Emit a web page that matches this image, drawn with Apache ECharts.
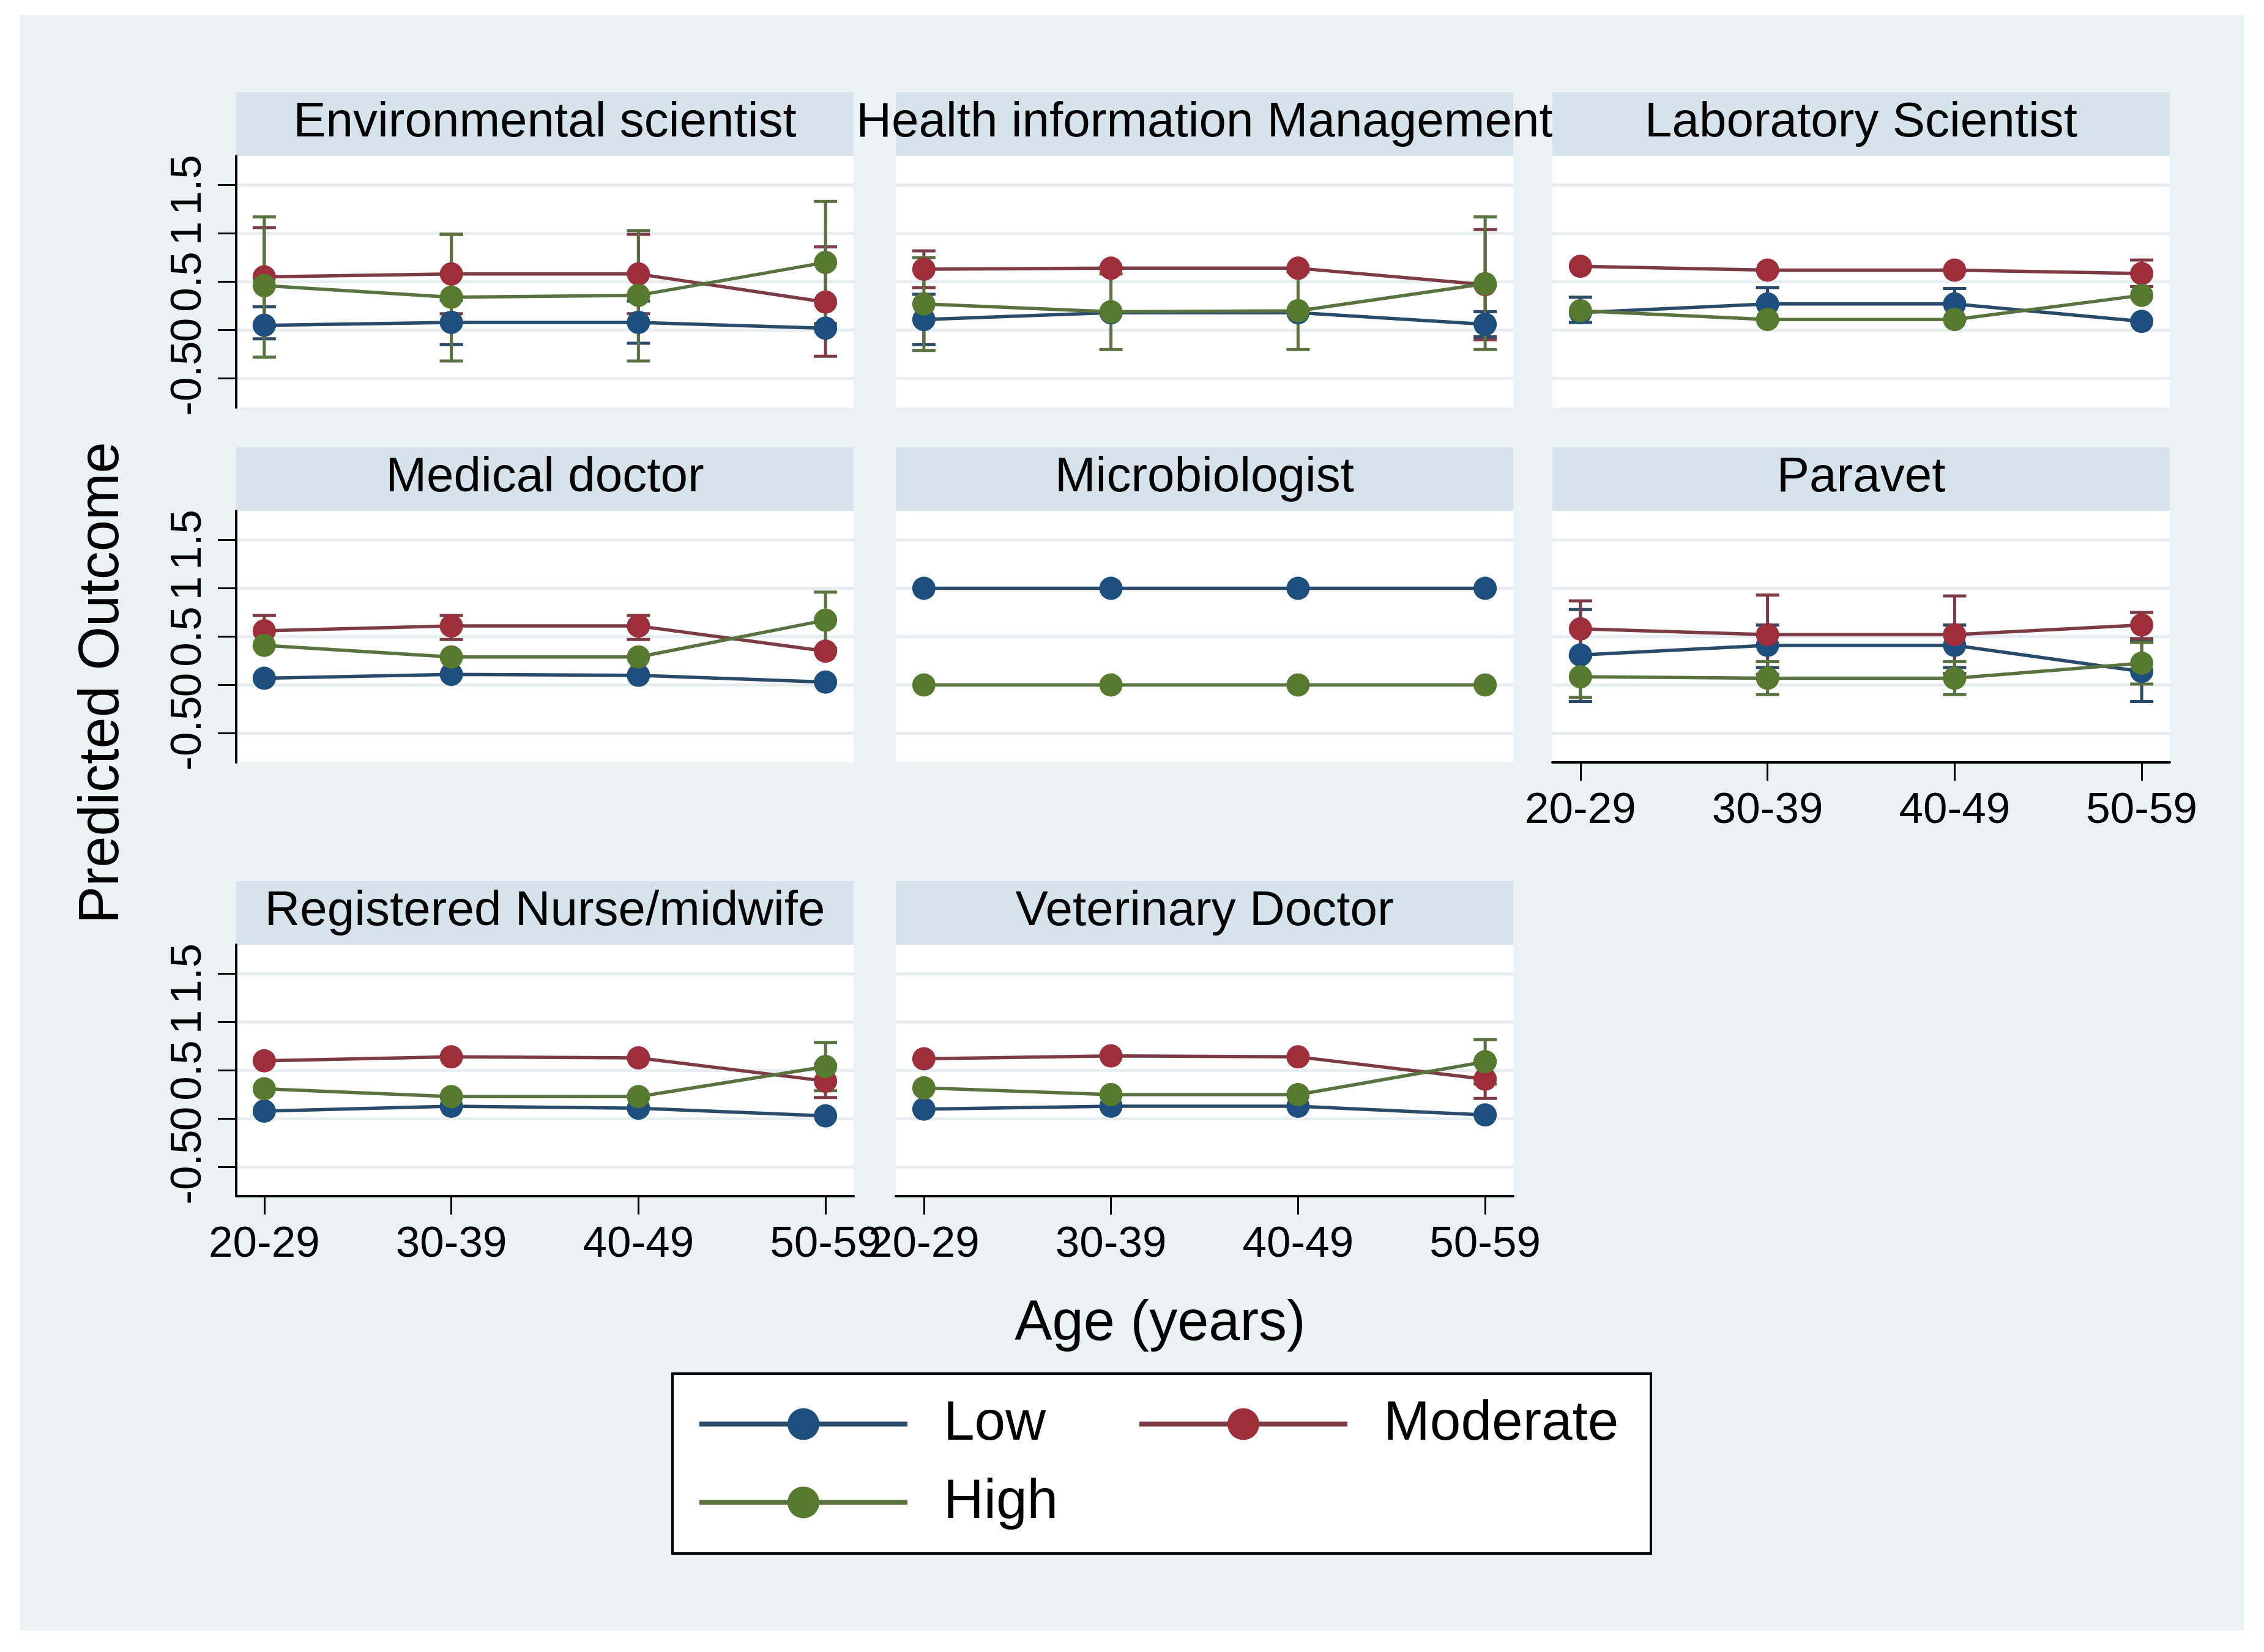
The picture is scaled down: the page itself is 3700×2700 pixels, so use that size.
<!DOCTYPE html>
<html>
<head>
<meta charset="utf-8">
<script src="https://cdn.jsdelivr.net/npm/echarts@6/dist/echarts.min.js"></script>
<style>
html,body{margin:0;padding:0;background:#ffffff;}
#c{position:absolute;left:32px;top:25px;width:3635px;height:2640px;}
</style>
</head>
<body>
<div id="c"></div>
<script>
// ---------------- data ----------------
const ages = ['20-29', '30-39', '40-49', '50-59'];
const groups = ['Low', 'Moderate', 'High'];
const panels = ['Environmental scientist', 'Health information Management', 'Laboratory Scientist',
  'Medical doctor', 'Microbiologist', 'Paravet', 'Registered Nurse/midwife', 'Veterinary Doctor'];
const yTicks = [-0.5, 0, 0.5, 1, 1.5];
const xTicks = [0, 1, 2, 3];

// predicted outcome, one row per panel (order as in `panels`)
const lowVals = [
  [0.05, 0.08, 0.08, 0.02],
  [0.11, 0.18, 0.18, 0.06],
  [0.18, 0.27, 0.27, 0.09],
  [0.07, 0.11, 0.10, 0.03],
  [1.00, 1.00, 1.00, 1.00],
  [0.31, 0.41, 0.41, 0.14],
  [0.08, 0.13, 0.11, 0.03],
  [0.10, 0.13, 0.13, 0.04]
];
const moderateVals = [
  [0.55, 0.58, 0.58, 0.29],
  [0.63, 0.64, 0.64, 0.47],
  [0.66, 0.62, 0.62, 0.585],
  [0.56, 0.61, 0.61, 0.35],
  null,
  [0.58, 0.52, 0.52, 0.62],
  [0.60, 0.64, 0.63, 0.39],
  [0.62, 0.65, 0.64, 0.41]
];
const highVals = [
  [0.46, 0.34, 0.36, 0.70],
  [0.27, 0.19, 0.20, 0.48],
  [0.20, 0.11, 0.11, 0.36],
  [0.41, 0.29, 0.29, 0.67],
  [0.00, 0.00, 0.00, 0.00],
  [0.085, 0.07, 0.07, 0.225],
  [0.31, 0.23, 0.23, 0.54],
  [0.32, 0.25, 0.25, 0.59]
];

// confidence intervals (only where visible in the picture)
const lowLower = [
  [-0.09, -0.15, -0.135, null],
  [-0.15, null, null, -0.07],
  [0.08, 0.10, 0.11, null],
  null, null,
  [-0.17, 0.18, 0.18, -0.17],
  null, null
];
const lowUpper = [
  [0.24, 0.31, 0.30, null],
  [0.37, null, null, 0.19],
  [0.34, 0.44, 0.43, null],
  null, null,
  [0.78, 0.62, 0.62, 0.45],
  null, null
];
const moderateLower = [
  [0.04, 0.17, 0.17, -0.27],
  [0.44, null, null, -0.10],
  [null, null, null, 0.45],
  [0.40, 0.47, 0.47, null],
  null,
  [0.29, 0.11, 0.12, 0.48],
  [null, null, null, 0.22],
  [null, null, null, 0.21]
];
const moderateUpper = [
  [1.06, 0.99, 0.99, 0.86],
  [0.82, null, null, 1.04],
  [null, null, null, 0.725],
  [0.72, 0.72, 0.72, null],
  null,
  [0.87, 0.93, 0.92, 0.75],
  [null, null, null, 0.56],
  [null, null, null, 0.60]
];
const highLower = [
  [-0.28, -0.32, -0.32, 0.07],
  [-0.21, -0.20, -0.20, -0.20],
  null,
  [null, null, null, 0.38],
  null,
  [-0.13, -0.10, -0.10, 0.01],
  [null, null, null, 0.29],
  [null, null, null, 0.36]
];
const highUpper = [
  [1.17, 0.99, 1.03, 1.33],
  [0.75, 0.58, 0.60, 1.17],
  null,
  [null, null, null, 0.96],
  null,
  [0.30, 0.24, 0.24, 0.44],
  [null, null, null, 0.79],
  [null, null, null, 0.82]
];

// ---------------- layout / style ----------------
const OX = 32, OY = 25;
const colLeft = [386, 1464, 2537];
const rowTop = [255, 835, 1544];
const plotW = 1009, plotH = 411, stripH = 104;
const FONT = '"Liberation Sans", Arial, Helvetica, sans-serif';
const lineColors = ['#2A4A6A', '#7D3B45', '#5A7240'];
const markerColors = ['#1C4E7E', '#9D2E3A', '#567A2E'];
const bottomPanels = [5, 6, 7];
const leftPanels = [0, 3, 6];

const valsByGroup = [lowVals, moderateVals, highVals];
const loByGroup = [lowLower, moderateLower, highLower];
const hiByGroup = [lowUpper, moderateUpper, highUpper];

const grids = [], xAxes = [], yAxes = [], series = [], graphics = [];
const yLabelStyle = {rotate: 90, formatter: v => String(v), fontSize: 71, color: '#000', fontFamily: FONT, margin: 42};

panels.forEach((name, p) => {
  const r = Math.floor(p / 3), c = p % 3;
  const left = colLeft[c] - OX, top = rowTop[r] - OY;
  grids.push({left: left, top: top, width: plotW, height: plotH, show: true,
    backgroundColor: '#ffffff', borderWidth: 0, containLabel: false});
  const isBottom = bottomPanels.includes(p);
  const isLeft = leftPanels.includes(p);
  xAxes.push({
    type: 'value', gridIndex: p, min: -0.15, max: 3.15,
    axisLine: {show: isBottom, onZero: false, lineStyle: {color: '#000', width: 4}},
    axisTick: {show: isBottom, customValues: xTicks, length: 30, lineStyle: {color: '#000', width: 3}},
    axisLabel: {show: isBottom, customValues: xTicks, formatter: v => ages[Math.round(v)],
      fontSize: 71, color: '#000', fontFamily: FONT, margin: 44},
    splitLine: {show: false}
  });
  yAxes.push({
    type: 'value', gridIndex: p, min: -0.8, max: 1.8,
    axisLine: {show: isLeft, onZero: false, lineStyle: {color: '#000', width: 4}},
    axisTick: {show: isLeft, customValues: yTicks, length: 30, lineStyle: {color: '#000', width: 3}},
    axisLabel: Object.assign({show: isLeft, customValues: yTicks.slice(1)}, yLabelStyle),
    splitLine: {show: true, lineStyle: {color: '#E8EDEF', width: 5}}
  });

  // strip
  graphics.push({type: 'rect', shape: {x: left, y: top - stripH, width: plotW, height: stripH},
    style: {fill: '#D7E3EA'}, silent: true});
  graphics.push({type: 'text', x: left + plotW / 2, y: top - stripH + 50,
    style: {text: name, fill: '#000', font: '80px ' + FONT, textAlign: 'center', textVerticalAlign: 'middle'},
    silent: true});

  groups.forEach((g, gi) => {
    const vals = valsByGroup[gi][p];
    if (!vals) return;
    const lo = loByGroup[gi][p], hi = hiByGroup[gi][p];
    if (lo && hi) {
      const ebData = [];
      for (let i = 0; i < 4; i++) {
        if (lo[i] != null && hi[i] != null) ebData.push([i, lo[i], hi[i]]);
      }
      const col = lineColors[gi];
      series.push({
        type: 'custom', name: g + ' CI', xAxisIndex: p, yAxisIndex: p, z: 2,
        encode: {x: 0, y: [1, 2]}, data: ebData, silent: true,
        renderItem: function (params, api) {
          const x = api.value(0);
          const a = api.coord([x, api.value(1)]);
          const b = api.coord([x, api.value(2)]);
          const hw = 19;
          const st = {stroke: col, lineWidth: 5};
          return {type: 'group', children: [
            {type: 'line', shape: {x1: a[0], y1: a[1], x2: b[0], y2: b[1]}, style: st},
            {type: 'line', shape: {x1: a[0] - hw, y1: a[1], x2: a[0] + hw, y2: a[1]}, style: st},
            {type: 'line', shape: {x1: b[0] - hw, y1: b[1], x2: b[0] + hw, y2: b[1]}, style: st}
          ]};
        }
      });
    }
    series.push({
      type: 'line', name: g, xAxisIndex: p, yAxisIndex: p, z: 3 + gi,
      data: vals.map((v, i) => [i, v]),
      symbol: 'circle', symbolSize: 38, showSymbol: true,
      lineStyle: {color: lineColors[gi], width: 5.5},
      itemStyle: {color: markerColors[gi]},
      emphasis: {disabled: true}
    });
  });
});

// extra label-only y axes for the lowest tick label (so it is not hidden by overlap logic)
leftPanels.forEach(p => {
  yAxes.push({
    type: 'value', gridIndex: p, min: -0.8, max: 1.8, position: 'left',
    axisLine: {show: false}, axisTick: {show: false}, splitLine: {show: false},
    axisLabel: Object.assign({show: true, customValues: [yTicks[0]]}, yLabelStyle)
  });
});

// legend box and titles
graphics.push({type: 'rect', shape: {x: 1099 - OX, y: 2245 - OY, width: 1599, height: 294},
  style: {fill: '#ffffff', stroke: '#000', lineWidth: 4}, z: -1, silent: true});
graphics.push({type: 'text', x: 1896 - OX, y: 2165 - OY,
  style: {text: 'Age (years)', fill: '#000', font: '92px ' + FONT, textAlign: 'center', textVerticalAlign: 'middle'},
  silent: true});
graphics.push({type: 'text', x: 168 - OX, y: 1116 - OY, rotation: Math.PI / 2,
  style: {text: 'Predicted Outcome', fill: '#000', font: '92px ' + FONT, textAlign: 'center', textVerticalAlign: 'middle'},
  silent: true});

function legendFor(name, x, yCenter) {
  return {
    data: [name], left: x - OX, top: yCenter - 46 - OY, padding: 0,
    itemWidth: 340, itemHeight: 65, selectedMode: false,
    lineStyle: {width: 8},
    textStyle: {fontSize: 91, color: '#000', fontFamily: FONT, padding: [0, 0, 0, 54]}
  };
}

const option = {
  animation: false,
  backgroundColor: '#EAF2F3',
  grid: grids, xAxis: xAxes, yAxis: yAxes, series: series,
  legend: [legendFor('Low', 1139, 2328), legendFor('Moderate', 1858, 2328), legendFor('High', 1139, 2456)],
  graphic: {elements: graphics}
};

const chart = echarts.init(document.getElementById('c'), null, {renderer: 'canvas'});
chart.setOption(option);
</script>
</body>
</html>
